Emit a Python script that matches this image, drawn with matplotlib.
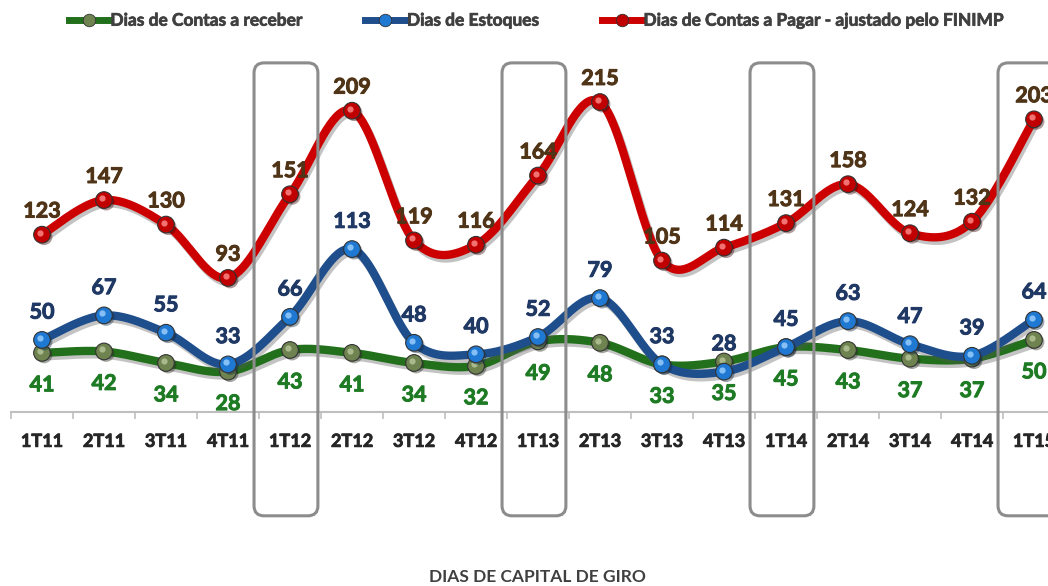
import numpy as np
import matplotlib
matplotlib.use('Agg')
import matplotlib.pyplot as plt
import matplotlib.patheffects as pe
import matplotlib.transforms as mtransforms
from matplotlib.patches import FancyBboxPatch
from matplotlib.lines import Line2D

# Dados
trimestres = ['1T11', '2T11', '3T11', '4T11', '1T12', '2T12', '3T12', '4T12', '1T13',
              '2T13', '3T13', '4T13', '1T14', '2T14', '3T14', '4T14', '1T15']
contas_receber = [41, 42, 34, 28, 43, 41, 34, 32, 49, 48, 33, 35, 45, 43, 37, 37, 50]
estoques = [50, 67, 55, 33, 66, 113, 48, 40, 52, 79, 33, 28, 45, 63, 47, 39, 64]
contas_pagar = [123, 147, 130, 93, 151, 209, 119, 116, 164, 215, 105, 114, 131, 158, 124, 132, 203]
destaques = ['1T12', '1T13', '1T14', '1T15']

plt.rcParams['font.family'] = ['Lato', 'DejaVu Sans']


def suaviza(xs, ys, n=40):
    # curva suavizada (tipo Excel / Catmull-Rom) passando pelos pontos
    p = np.column_stack([xs, ys]).astype(float)
    saida = []
    for i in range(len(p) - 1):
        p0 = p[i - 1] if i > 0 else p[i]
        p1, p2 = p[i], p[i + 1]
        p3 = p[i + 2] if i + 2 < len(p) else p[i + 1]
        c1 = p1 + (p2 - p0) / 6
        c2 = p2 - (p3 - p1) / 6
        t = np.linspace(0, 1, n)[:, None]
        b = (1 - t) ** 3 * p1 + 3 * (1 - t) ** 2 * t * c1 + 3 * (1 - t) * t ** 2 * c2 + t ** 3 * p2
        saida.append(b if i == 0 else b[1:])
    b = np.vstack(saida)
    return b[:, 0], b[:, 1]


fig = plt.figure(figsize=(10.48, 5.86), dpi=100)
ax = fig.add_axes([11 / 1048, 174 / 586, 1054 / 1048, 346 / 586])
ax.set_xlim(-0.5, len(trimestres) - 0.5)
ax.set_ylim(0, 240)

x = np.arange(len(trimestres))

series = [
    (contas_receber, '#23701c', '#6e8350', '#b8c79a', '#1e7b24', -23, 'Dias de Contas a receber'),
    (estoques, '#1f4e8c', '#1f78d1', '#9fd2ff', '#1f3864', 20, 'Dias de Estoques'),
    (contas_pagar, '#cc0000', '#c00000', '#ff9090', '#4f3417', 17, 'Dias de Contas a Pagar - ajustado pelo FINIMP'),
]

sombra = [pe.SimpleLineShadow(offset=(1.5, -2.5), alpha=0.35, shadow_color='#555555'), pe.Normal()]
brilho = mtransforms.offset_copy(ax.transData, fig=fig, x=-2, y=2, units='dots')
contorno = [pe.withStroke(linewidth=0.6, foreground=None)]

handles = []
for k, (vals, cor_linha, cor_marc, cor_brilho, cor_txt, dy, nome) in enumerate(series):
    xs, ys = suaviza(x, vals)
    ax.plot(xs, ys, color=cor_linha, lw=6, solid_capstyle='round', zorder=2 + k * 3,
            path_effects=sombra)
    ax.plot(x, vals, 'o', ms=12, mfc=cor_marc, mec='#333333', mew=0.8, zorder=3 + k * 3,
            path_effects=[pe.SimplePatchShadow(offset=(1.5, -1.5), alpha=0.4), pe.Normal()])
    ax.plot(x, vals, 'o', ms=4.5, mfc=cor_brilho, mec='none', alpha=0.8, zorder=3.5 + k * 3,
            transform=brilho)
    for xi, v in zip(x, vals):
        ax.annotate(str(v), (xi, v), xytext=(0, dy), textcoords='offset points',
                    ha='center', va='center', fontsize=15.5, fontweight='bold',
                    color=cor_txt, zorder=20,
                    path_effects=[pe.withStroke(linewidth=0.7, foreground=cor_txt)])
    handles.append(Line2D([0], [0], color=cor_linha, lw=5, marker='o', ms=9,
                          mfc=cor_marc, mec='#333333', mew=0.6))

# eixos
for lado in ['top', 'right', 'left']:
    ax.spines[lado].set_visible(False)
ax.spines['bottom'].set_color('#bfbfbf')
ax.spines['bottom'].set_linewidth(1.5)
ax.set_yticks([])
ax.set_xticks(np.arange(-0.5, len(trimestres), 1))
ax.set_xticklabels([])
ax.tick_params(axis='x', which='major', length=5, width=1.2, color='#bfbfbf')
ax.set_xticks(x, minor=True)
ax.set_xticklabels(trimestres, minor=True, fontsize=13, fontweight='bold', color='#262626')
for t in ax.get_xticklabels(minor=True):
    t.set_path_effects([pe.withStroke(linewidth=0.6, foreground='#262626')])
ax.tick_params(axis='x', which='minor', length=0, pad=15)

# destaques (retângulos arredondados)
fig.canvas.draw()
for d in destaques:
    i = trimestres.index(d)
    x0 = ax.transData.transform((i - 0.58, 0))[0]
    x1 = ax.transData.transform((i + 0.45, 0))[0]
    y0 = ax.transAxes.transform((0, -0.30))[1]
    y1 = ax.transAxes.transform((0, 1.009))[1]
    caixa = FancyBboxPatch((x0, y0), x1 - x0, y1 - y0, boxstyle='round,pad=0,rounding_size=10',
                           fc='none', ec='#8c8c8c', lw=2.2, transform=None, zorder=1)
    fig.add_artist(caixa)

leg = fig.legend(handles, [s[6] for s in series], loc='upper center', bbox_to_anchor=(0.512, 1.005),
                 ncol=3, frameon=False, handlelength=2.3, handletextpad=0.1, columnspacing=3.6,
                 prop={'size': 12.5, 'weight': 'bold'}, labelcolor='#404040')
for t in leg.get_texts():
    t.set_path_effects([pe.withStroke(linewidth=0.5, foreground='#404040')])

fig.text(0.5124, 1 - 577 / 586, 'DIAS DE CAPITAL DE GIRO', ha='center', va='center',
         fontsize=12.5, fontweight='bold', color='#404040')

fig.savefig('out.png', dpi=100)
